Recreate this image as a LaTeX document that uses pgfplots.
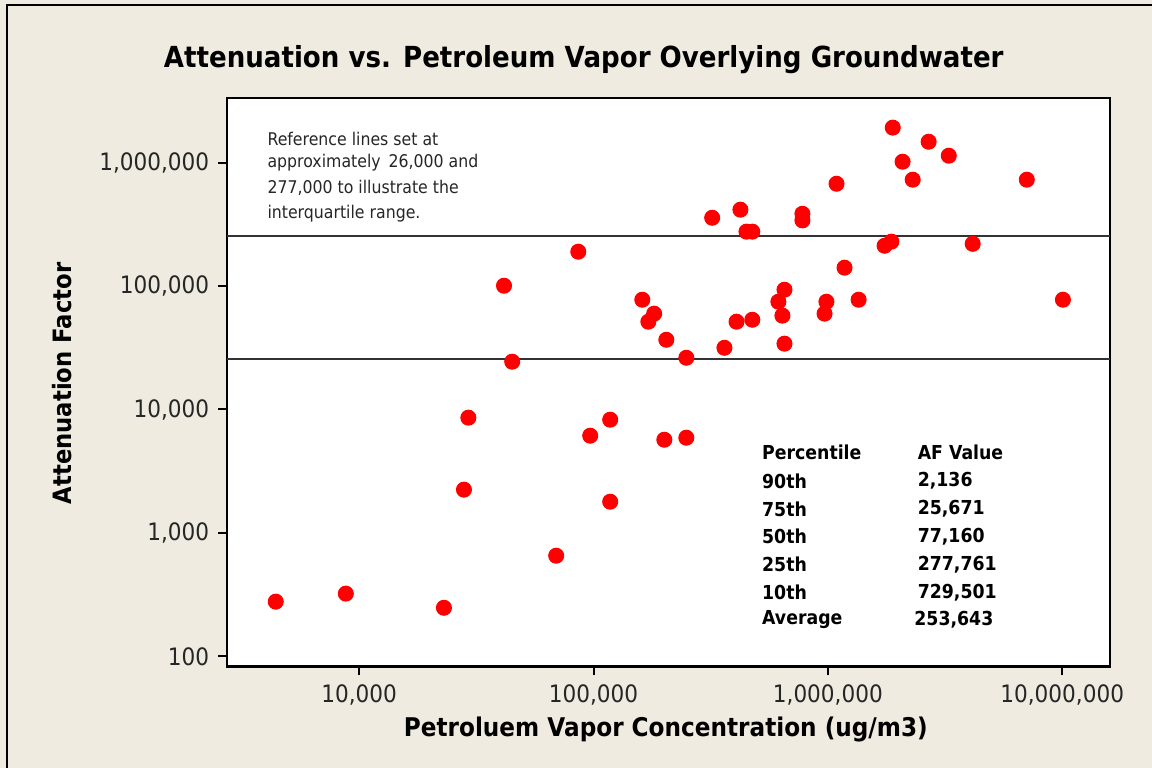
\documentclass[border=0pt]{standalone}
\usepackage{pgfplots}
\pgfplotsset{compat=1.18}
\usepackage{fontspec}
\setmainfont{DejaVu Sans}[FakeStretch=0.9]
\definecolor{bg}{RGB}{239,235,224}
\definecolor{refl}{RGB}{51,51,51}
\begin{document}
\begin{tikzpicture}
\fill[bg] (-90.8pt,-40.6pt) rectangle (370pt,266.6pt);
\draw[black,line width=0.8pt] (-88pt,-41pt) -- (-88pt,264.6pt) -- (371pt,264.6pt);
\begin{axis}[
  scale only axis, width=353.2pt, height=227.4pt,
  xmode=log, ymode=log,
  xmin=2729, xmax=1.6e7, ymin=83, ymax=3.33e6,
  axis background/.style={fill=white},
  axis line style={black,line width=1pt},
  xtick={1e4,1e5,1e6,1e7},
  xticklabels={{10,000},{100,000},{1,000,000},{10,000,000}},
  ytick={100,1000,1e4,1e5,1e6},
  yticklabels={{100},{1,000},{10,000},{100,000},{1,000,000}},
  xminorticks=false, yminorticks=false,
  tick pos=left, tick align=outside, major tick length=3.6pt,
  tick style={black,line width=0.8pt},
  ticklabel style={font=\fontsize{9.6}{11}\selectfont, text=black!85},
  clip=false,
]
\addplot[refl, line width=1pt] coordinates {(2729,253643) (1.6e7,253643)};
\addplot[refl, line width=1pt] coordinates {(2729,25671) (1.6e7,25671)};
\addplot[only marks, mark=*, mark size=3pt, red, mark options={fill=red, draw=red}] coordinates {
(4406,278) (8772,323) (23000,248) (29240,8590) (28000,2244)
(41500,100500) (44980,24380) (86100,189600) (69300,655) (96800,6135)
(117800,8270) (117800,1792) (200500,5692) (248900,5910)
(1892000,1916000) (2692000,1473000) (3281000,1135000) (2084000,1015000)
(2302000,726000) (7063000,726000) (1089000,673000) (321000,357000)
(423500,415000) (449500,275500) (476000,275500) (779000,384600) (779000,340000)
(1746000,211800) (1866000,228600) (4150000,219600) (1178000,140700)
(161500,77440) (181500,59720) (171400,51400) (204500,36710) (248900,26240)
(362000,31600) (407600,51400) (476000,53300) (653000,34130) (615000,74600)
(653000,93300) (640000,57550) (986000,74600) (968000,59720) (1353000,77440)
(10070000,77440)
};
\node[font=\fontsize{11.6}{14}\bfseries] at (rel axis cs:0.404,1.067) {Attenuation vs. Petroleum Vapor Overlying Groundwater};
\node[font=\fontsize{10.3}{12}\bfseries] at (rel axis cs:0.497,-0.110) {Petroluem Vapor Concentration (ug/m3)};
\node[font=\fontsize{10.1}{12}\bfseries, rotate=90] at (rel axis cs:-0.187,0.498) {Attenuation Factor};
\begin{scope}[every node/.style={anchor=west, inner sep=0pt, font=\fontsize{7}{8}\selectfont, text=black!85}]
\node at (rel axis cs:0.0453,0.928) {Reference lines set at};
\node at (rel axis cs:0.0453,0.886) {approximately \,26,000 and};
\node at (rel axis cs:0.0453,0.842) {277,000 to illustrate the};
\node at (rel axis cs:0.0453,0.797) {interquartile range.};
\end{scope}
\begin{scope}[every node/.style={anchor=west, inner sep=0pt, font=\fontsize{7.7}{8}\bfseries}]
\node at (rel axis cs:0.6055,0.3769) {Percentile};
\node at (rel axis cs:0.7817,0.3769) {AF Value};
\node at (rel axis cs:0.6055,0.3263) {90th};
\node at (rel axis cs:0.7817,0.3263) {2,136};
\node at (rel axis cs:0.6055,0.2770) {75th};
\node at (rel axis cs:0.7817,0.2770) {25,671};
\node at (rel axis cs:0.6055,0.2284) {50th};
\node at (rel axis cs:0.7817,0.2284) {77,160};
\node at (rel axis cs:0.6055,0.1791) {25th};
\node at (rel axis cs:0.7817,0.1791) {277,761};
\node at (rel axis cs:0.6055,0.1298) {10th};
\node at (rel axis cs:0.7817,0.1298) {729,501};
\node at (rel axis cs:0.6055,0.0817) {Average};
\node at (rel axis cs:0.7779,0.0817) {253,643};
\end{scope}
\end{axis}
\pgfresetboundingbox
\useasboundingbox (-90.8pt,-40.6pt) rectangle (370pt,266.6pt);
\end{tikzpicture}
\end{document}
